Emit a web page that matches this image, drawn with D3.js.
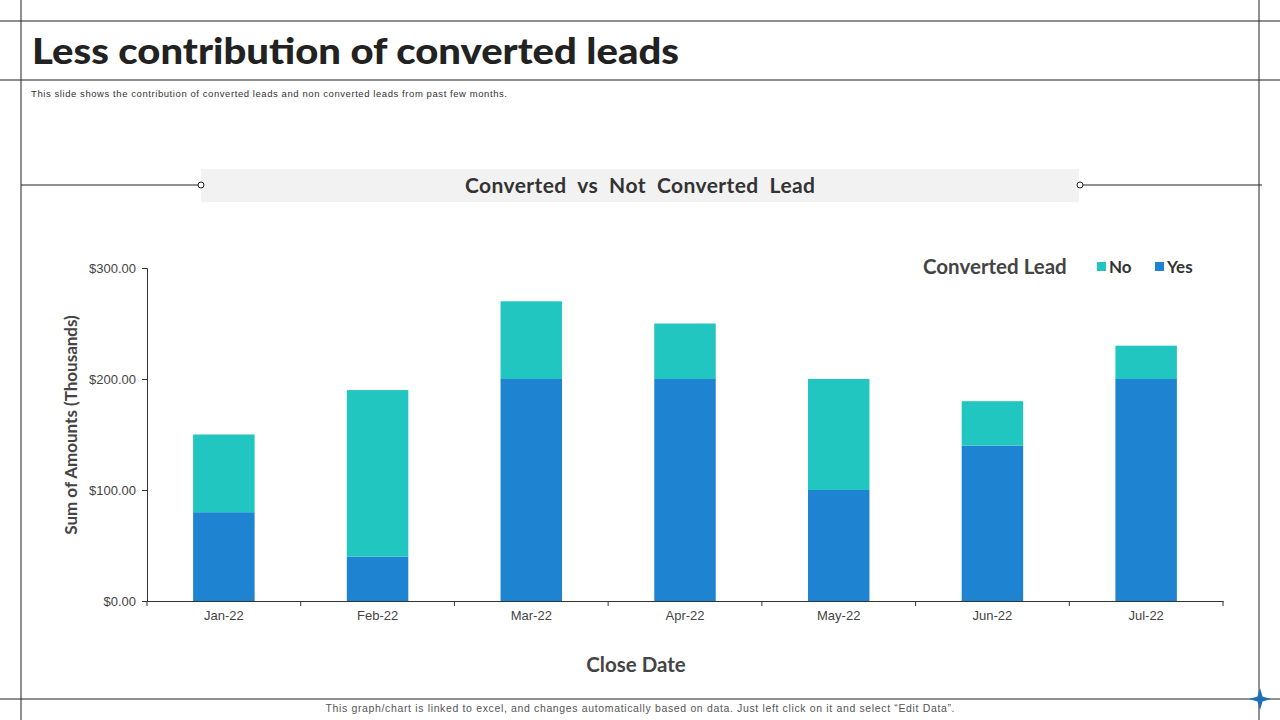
<html>
<head>
<script src="https://d3js.org/d3.v7.min.js"></script>
<style>
  body { margin: 0; background: #fff; }
  svg { display: block; }
</style>
</head>
<body>
<svg id="chart"></svg>
<script>
// chart data
var months = ["Jan-22", "Feb-22", "Mar-22", "Apr-22", "May-22", "Jun-22", "Jul-22"];
var yesValues = [80, 40, 200, 200, 100, 140, 200];
var noValues = [70, 150, 70, 50, 100, 40, 30];
var seriesNames = ["No", "Yes"];
var yTicks = [0, 100, 200, 300];

var width = 1280, height = 720;
var colors = { "Yes": "#1e83d0", "No": "#20c6bf" };
var font = "Lato, 'Noto Sans', sans-serif";
var plainFont = "'Liberation Sans', Arial, sans-serif";

var svg = d3.select("#chart")
  .attr("width", width)
  .attr("height", height)
  .attr("font-family", font);

// slide frame lines
var lineColor = "#222";
svg.append("line").attr("x1", 21).attr("x2", 21).attr("y1", 0).attr("y2", height).attr("stroke", lineColor);
svg.append("line").attr("x1", 1259).attr("x2", 1259).attr("y1", 0).attr("y2", height).attr("stroke", lineColor);
svg.append("line").attr("x1", 0).attr("x2", width).attr("y1", 21).attr("y2", 21).attr("stroke", lineColor);
svg.append("line").attr("x1", 0).attr("x2", width).attr("y1", 80).attr("y2", 80).attr("stroke", lineColor);
svg.append("line").attr("x1", 0).attr("x2", width).attr("y1", 699).attr("y2", 699).attr("stroke", lineColor);

// title
svg.append("text")
  .attr("x", 32).attr("y", 64)
  .attr("font-size", 36).attr("font-weight", 900)
  .attr("fill", "#222")
  .attr("textLength", 647)
  .attr("lengthAdjust", "spacingAndGlyphs")
  .text("Less contribution of converted leads");

svg.append("text")
  .attr("x", 31).attr("y", 97)
  .attr("font-size", 9.5)
  .attr("font-family", plainFont)
  .attr("fill", "#333")
  .attr("textLength", 476)
  .text("This slide shows the contribution of converted leads and non converted leads from past few months.");

// chart title band
svg.append("line").attr("x1", 21).attr("x2", 198).attr("y1", 185).attr("y2", 185).attr("stroke", lineColor);
svg.append("line").attr("x1", 1083).attr("x2", 1262).attr("y1", 185).attr("y2", 185).attr("stroke", lineColor);
svg.append("rect")
  .attr("x", 201).attr("y", 169).attr("width", 878).attr("height", 33)
  .attr("fill", "#f2f2f2");
svg.append("circle").attr("cx", 201).attr("cy", 185).attr("r", 3)
  .attr("fill", "#fff").attr("stroke", lineColor);
svg.append("circle").attr("cx", 1080).attr("cy", 185).attr("r", 3)
  .attr("fill", "#fff").attr("stroke", lineColor);
svg.append("text")
  .attr("x", 640).attr("y", 193)
  .attr("text-anchor", "middle")
  .attr("font-size", 21).attr("font-weight", 700)
  .attr("fill", "#333")
  .style("white-space", "pre")
  .attr("textLength", 350)
  .text("Converted  vs  Not  Converted  Lead");

// plot area
var margin = { left: 147, right: 1223, top: 268, bottom: 601 };

var x = d3.scaleBand()
  .domain(months)
  .range([margin.left, margin.right])
  .paddingInner(0.6)
  .paddingOuter(0.3);

var y = d3.scaleLinear()
  .domain([0, 300])
  .range([margin.bottom, margin.top]);

var tableRows = months.map(function(m, i) {
  return { month: m, Yes: yesValues[i], No: noValues[i] };
});
var stacked = d3.stack().keys(["Yes", "No"])(tableRows);

svg.append("g")
  .selectAll("g")
  .data(stacked)
  .join("g")
    .attr("fill", function(d) { return colors[d.key]; })
  .selectAll("rect")
  .data(function(d) { return d; })
  .join("rect")
    .attr("x", function(d) { return x(d.data.month); })
    .attr("y", function(d) { return y(d[1]); })
    .attr("height", function(d) { return y(d[0]) - y(d[1]); })
    .attr("width", x.bandwidth());

// y axis
var yAxis = svg.append("g")
  .attr("transform", "translate(" + margin.left + ",0)")
  .call(d3.axisLeft(y).tickValues(yTicks).tickSize(5).tickPadding(6)
    .tickFormat(function(d) { return "$" + d3.format(".2f")(d); }));
yAxis.select(".domain").attr("stroke", "#333");
yAxis.selectAll(".tick line").attr("stroke", "#333");
yAxis.selectAll("text")
  .attr("font-size", 13).attr("fill", "#444")
  .attr("font-family", plainFont);

// x axis with ticks at category boundaries
var xAxis = svg.append("g")
  .attr("transform", "translate(0," + margin.bottom + ")")
  .call(d3.axisBottom(x).tickSize(0).tickPadding(10));
xAxis.select(".domain").attr("stroke", "#333");
xAxis.selectAll("text")
  .attr("font-size", 13).attr("fill", "#444")
  .attr("font-family", plainFont);

var boundaries = d3.range(months.length + 1).map(function(i) {
  return margin.left + (margin.right - margin.left) * i / months.length;
});
xAxis.selectAll(".bound")
  .data(boundaries)
  .join("line")
    .attr("class", "bound")
    .attr("x1", function(d) { return d; })
    .attr("x2", function(d) { return d; })
    .attr("y1", 0).attr("y2", 5)
    .attr("stroke", "#333");

// axis titles
svg.append("text")
  .attr("transform", "translate(77,425) rotate(-90)")
  .attr("text-anchor", "middle")
  .attr("font-size", 17).attr("font-weight", 700)
  .attr("fill", "#444")
  .text("Sum of Amounts (Thousands)");

svg.append("text")
  .attr("x", 636).attr("y", 672)
  .attr("text-anchor", "middle")
  .attr("font-size", 20.5).attr("font-weight", 700)
  .attr("fill", "#444")
  .text("Close Date");

// legend
svg.append("text")
  .attr("x", 923).attr("y", 274)
  .attr("font-size", 20.5).attr("font-weight", 700)
  .attr("fill", "#444")
  .text("Converted Lead");

var legendX = { "No": 1097, "Yes": 1155 };
var legend = svg.append("g")
  .selectAll("g")
  .data(seriesNames)
  .join("g")
    .attr("transform", function(d) { return "translate(" + legendX[d] + ",262)"; });
legend.append("rect")
  .attr("width", 9).attr("height", 9)
  .attr("fill", function(d) { return colors[d]; });
legend.append("text")
  .attr("x", 12).attr("y", 11)
  .attr("font-size", 17).attr("font-weight", 700)
  .attr("fill", "#333")
  .text(function(d) { return d; });

// footer
svg.append("text")
  .attr("x", 640).attr("y", 712)
  .attr("text-anchor", "middle")
  .attr("font-size", 10.5)
  .attr("font-family", plainFont)
  .attr("fill", "#555")
  .attr("textLength", 629)
  .text("This graph/chart is linked to excel, and changes automatically based on data. Just left click on it and select \u201cEdit Data\u201d.");

// four-point star at bottom right corner
var star = d3.path();
var cx = 1260, cy = 699, r = 11, w = 2.5;
star.moveTo(cx, cy - r);
star.lineTo(cx + w, cy - w);
star.lineTo(cx + r, cy);
star.lineTo(cx + w, cy + w);
star.lineTo(cx, cy + r);
star.lineTo(cx - w, cy + w);
star.lineTo(cx - r, cy);
star.lineTo(cx - w, cy - w);
star.closePath();
svg.append("path").attr("d", star.toString()).attr("fill", "#1e6fb5");
</script>
</body>
</html>
